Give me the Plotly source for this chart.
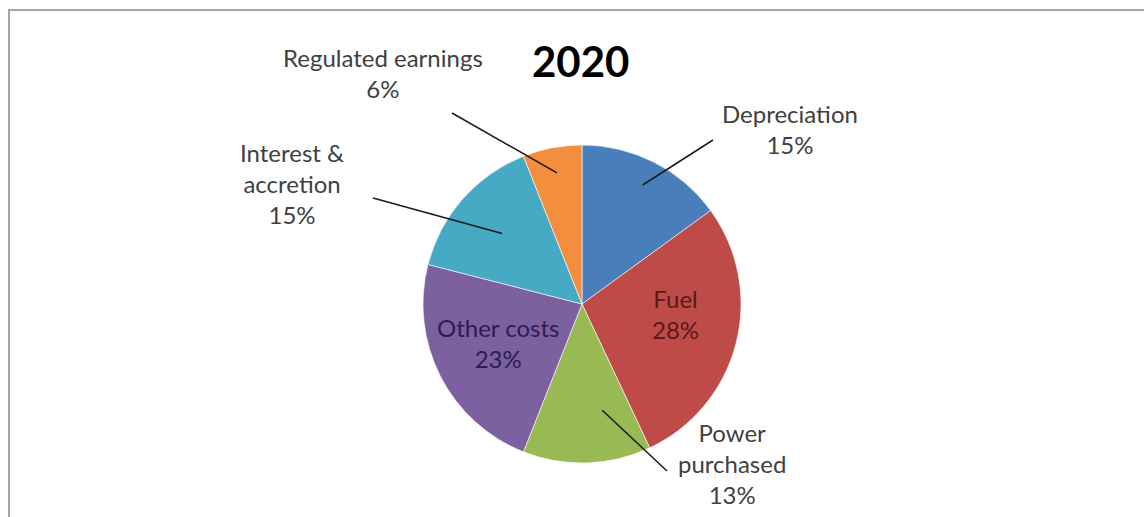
import math
import plotly.graph_objects as go

# Cost breakdown, 2020 (percent of total), clockwise from 12 o'clock
categories = ["Depreciation", "Fuel", "Power purchased", "Other costs",
              "Interest & accretion", "Regulated earnings"]
shares = [15, 28, 13, 23, 15, 6]
label_lines = ["Depreciation", "Fuel", "Power<br>purchased", "Other costs",
               "Interest &<br>accretion", "Regulated earnings"]
title_text = "2020"

colors = ["#4A7EBB", "#BE4B48", "#98B954", "#7D60A0", "#46AAC5", "#F38E3F"]

W, H = 1144, 517
CX, CY, R = 582, 304, 159          # pie centre and radius in pixels


def px(x, y):
    """Pixel position -> paper coordinates (no margins)."""
    return x / W, 1 - y / H


total = sum(shares)
mid_angles = []
acc = 0
for s in shares:
    mid_angles.append((acc + s / 2) / total * 360)
    acc += s


def polar(angle_deg, frac):
    a = math.radians(angle_deg)
    return CX + frac * R * math.sin(a), CY - frac * R * math.cos(a)


# Label placement: text centre x, first-line centre y, leader-line tail,
# anchor radius fraction and angular nudge from the slice bisector
label_layout = {
    "Depreciation": dict(x=790, y=113, tail=(713, 140), frac=0.84, dang=0, color="#404040"),
    "Fuel": dict(x=675, y=298, tail=None, frac=None, dang=0, color="#5A1A1A"),
    "Power purchased": dict(x=732, y=432, tail=(667, 471), frac=0.68, dang=-9, color="#404040"),
    "Other costs": dict(x=498, y=327, tail=None, frac=None, dang=0, color="#2A1F4F"),
    "Interest & accretion": dict(x=292, y=152, tail=(373, 198), frac=0.67, dang=0, color="#404040"),
    "Regulated earnings": dict(x=383, y=57, tail=(452, 113), frac=0.84, dang=0, color="#404040"),
}
FONT_SIZE = 24
LINE_H = 1.3 * FONT_SIZE
FONT = "Lato, 'Open Sans', sans-serif"

fig = go.Figure()
fig.add_trace(go.Pie(
    labels=categories,
    values=shares,
    sort=False,
    direction="clockwise",
    rotation=0,
    marker=dict(colors=colors, line=dict(color="rgba(255,255,255,0.6)", width=1)),
    textinfo="none",
    hoverinfo="label+percent",
    showlegend=False,
    domain=dict(x=[(CX - R) / W, (CX + R) / W],
                y=[(H - CY - R) / H, (H - CY + R) / H]),
))

annotations = []
shapes = []
for cat, txt, s, ang in zip(categories, label_lines, shares, mid_angles):
    lay = label_layout[cat]
    pct = round(s / total * 100)
    text = f"{txt}<br>{pct}%"
    nlines = text.count("<br>") + 1
    cy_text = lay["y"] + (nlines - 1) * LINE_H / 2
    ax_, ay_ = px(lay["x"], cy_text)
    annotations.append(dict(
        x=ax_, y=ay_, xref="paper", yref="paper", text=text, showarrow=False,
        xanchor="center", yanchor="middle", align="center",
        font=dict(family=FONT, size=FONT_SIZE, color=lay["color"]),
    ))
    if lay["tail"] is not None:
        tx, ty = px(*lay["tail"])
        hx, hy = px(*polar(ang + lay["dang"], lay["frac"]))
        shapes.append(dict(type="line", xref="paper", yref="paper",
                           x0=tx, y0=ty, x1=hx, y1=hy,
                           line=dict(color="#1A1A1A", width=1.5)))

tx, ty = px(580, 61)
annotations.append(dict(
    x=tx, y=ty, xref="paper", yref="paper", text=f"<b>{title_text}</b>",
    showarrow=False, xanchor="center", yanchor="middle",
    font=dict(family=FONT, size=42, color="#000000"),
))

# chart-area frame, open at the right and bottom edges
x0, y0 = px(9, 10)
shapes.append(dict(type="rect", xref="paper", yref="paper",
                   x0=x0, y0=-0.05, x1=1.05, y1=y0,
                   line=dict(color="#A6A6A6", width=2)))

fig.update_layout(
    width=W, height=H,
    margin=dict(l=0, r=0, t=0, b=0),
    paper_bgcolor="white", plot_bgcolor="white",
    annotations=annotations, shapes=shapes,
)

fig.write_html("out.html")
